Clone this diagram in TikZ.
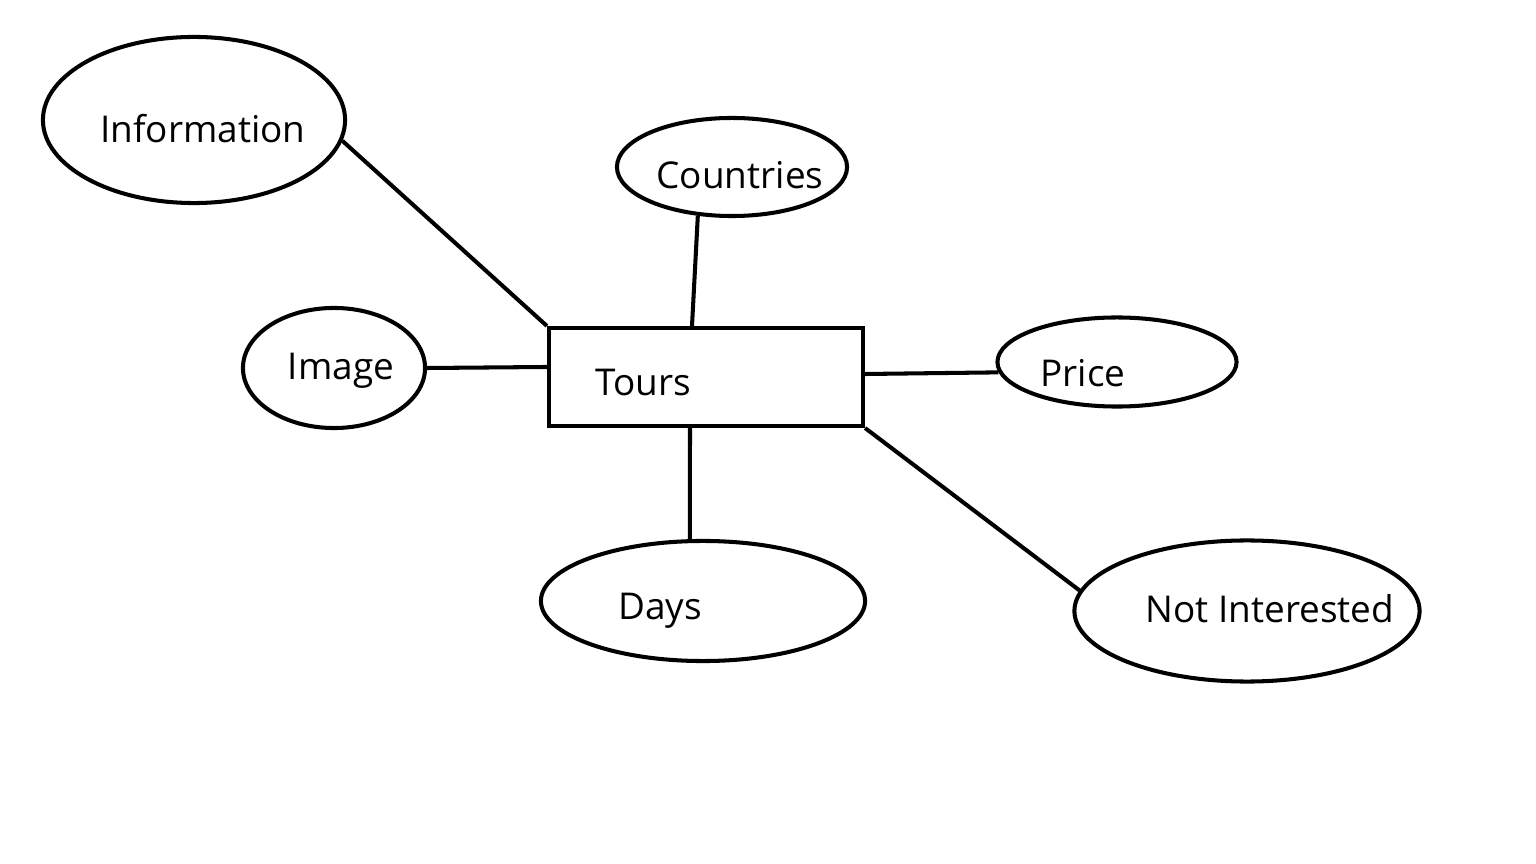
\documentclass[tikz,border=0pt]{standalone}
\usepackage{fontspec}
\setmainfont{Open Sans}
\usetikzlibrary{shapes.geometric}
\begin{document}
\begin{tikzpicture}[x=0.01cm,y=-0.01cm,
  attr/.style={ellipse,draw,line width=1.15pt,inner sep=0pt},
  lbl/.style={font=\fontsize{10.5}{12}\selectfont,inner sep=0pt},
  conn/.style={line width=1.15pt}]
\useasboundingbox (0,0) rectangle (1536,864);
\node[attr,minimum width=3.02cm,minimum height=1.66cm] (info) at (194,120) {};
\node[attr,minimum width=2.30cm,minimum height=0.98cm] (countries) at (732,167) {};
\node[attr,minimum width=1.82cm,minimum height=1.20cm] (image) at (334,368) {};
\node[attr,minimum width=2.39cm,minimum height=0.89cm] (price) at (1117,362) {};
\node[attr,minimum width=3.24cm,minimum height=1.20cm] (days) at (703,601) {};
\node[attr,minimum width=3.45cm,minimum height=1.41cm] (notint) at (1247,611) {};
\node[draw,line width=1.15pt,minimum width=3.14cm,minimum height=0.98cm,inner sep=0pt] (tours) at (706,377) {};
\node[lbl] (infot) at (203,129) {Information};
\node[lbl] (countriest) at (740,175) {Countries};
\node[lbl] (imaget) at (341,371) {Image};
\node[lbl] (tourst) at (643,383) {Tours};
\node[lbl] (pricet) at (1083,373) {Price};
\node[lbl] (dayst) at (660,611) {Days};
\node[lbl] (notintt) at (1270,609) {Not Interested};
\draw[conn] (info.-8) -- (tours.north west);
\draw[conn] (countries.-125) -- ([xshift=-0.14cm]tours.north);
\draw[conn] (image.east) -- ([yshift=0.10cm]tours.west);
\draw[conn] (price.185) -- ([yshift=0.03cm]tours.east);
\draw[conn] (days.102) -- ([xshift=-0.16cm]tours.south);
\draw[conn] (notint.173) -- (tours.south east);
\end{tikzpicture}
\end{document}
